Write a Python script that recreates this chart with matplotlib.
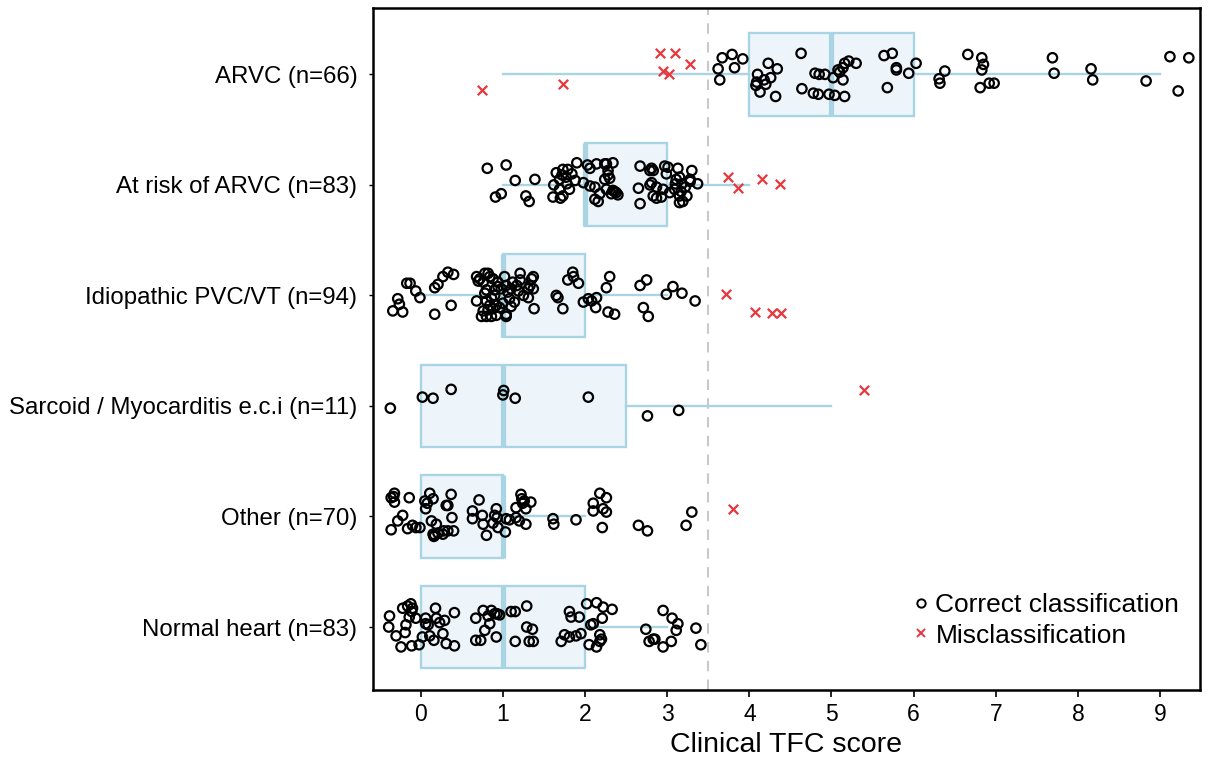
import numpy as np
import matplotlib
matplotlib.use('Agg')
import matplotlib.pyplot as plt
from matplotlib.lines import Line2D

plt.rcParams['font.family'] = ['Liberation Sans', 'DejaVu Sans']

groups = ['ARVC (n=66)', 'At risk of ARVC (n=83)', 'Idiopathic PVC/VT (n=94)',
          'Sarcoid / Myocarditis e.c.i (n=11)', 'Other (n=70)', 'Normal heart (n=83)']

# box statistics
q1 = [4, 2, 1, 0, 0, 0]
med = [5, 2, 1, 1, 1, 1]
q3 = [6, 3, 2, 2.5, 1, 2]
whislo = [1, 1, 0, 0, 0, 0]
whishi = [9, 4, 3, 5, 2, 3]

# jittered points: x = score (with jitter), dy = vertical offset from the row
arvc_ok_x = [3.67, 3.79, 3.92, 3.82, 3.62, 3.64, 4.23, 4.34, 4.10, 4.26, 4.09, 4.20, 4.08, 4.13, 4.32,
             4.63, 4.64, 4.80, 4.85, 4.92, 4.78, 4.84, 5.02, 5.08, 5.14, 5.16, 5.21, 5.30, 5.14, 5.16,
             5.64, 5.74, 5.79, 5.79, 5.94, 6.03, 5.68, 6.31, 6.32, 6.38, 6.66, 6.83, 6.85, 6.83,
             6.81, 6.92, 6.98, 7.69, 7.71, 8.16, 8.18, 8.83, 9.12, 9.35, 9.22, 4.97, 5.04, 4.18, 5.10]
arvc_ok_dy = [-0.15, -0.18, -0.14, -0.06, -0.05, 0.05, -0.10, -0.05, 0.00, 0.03, 0.07, 0.09, 0.10, 0.16, 0.20,
              -0.19, 0.13, -0.01, 0.00, 0.00, 0.17, 0.18, 0.03, -0.04, -0.06, -0.10, -0.12, -0.10, 0.05, 0.20,
              -0.17, -0.19, -0.06, -0.04, -0.01, -0.10, 0.12, 0.04, 0.08, -0.03, -0.18, -0.15, -0.09, -0.04,
              0.12, 0.08, 0.08, -0.15, -0.01, -0.05, 0.05, 0.06, -0.16, -0.15, 0.15, 0.18, 0.19, 0.05, -0.02]
arvc_mis_x = [0.74, 1.73, 2.91, 3.09, 2.95, 3.02, 3.28]
arvc_mis_dy = [0.14, 0.09, -0.19, -0.19, -0.03, 0.00, -0.09]

risk_ok_x = [0.81, 1.04, 1.15, 1.39, 0.98, 0.91, 1.28, 1.32, 1.61, 1.62, 1.65, 1.69, 1.73, 1.79, 1.77,
             1.81, 1.69, 1.70, 1.90, 1.88, 1.98, 2.03, 2.06, 2.14, 2.24, 2.34, 2.28, 2.24, 2.30, 2.26,
             2.12, 2.18, 2.16, 2.12, 2.34, 2.40, 2.32, 2.67, 2.81, 2.83, 2.97, 2.99, 2.65, 2.79, 2.81,
             2.87, 2.95, 3.01, 2.67, 2.83, 2.87, 2.93, 3.03, 3.09, 3.11, 3.13, 3.15, 3.18, 3.15, 3.19,
             3.15, 3.24, 3.22, 3.28, 3.30, 3.28, 3.37, 1.72, 1.78, 2.06, 2.28, 2.36, 2.79, 3.10, 3.17,
             1.73, 2.26, 2.38, 1.84]
risk_ok_dy = [-0.15, -0.18, -0.04, -0.05, 0.08, 0.11, 0.10, 0.15, 0.11, 0.00, -0.11, -0.05, -0.14, -0.14, -0.07,
              0.04, 0.04, 0.12, -0.20, -0.04, -0.02, -0.18, -0.15, -0.19, -0.19, -0.20, -0.13, -0.05, -0.06, 0.04,
              0.02, 0.08, 0.15, 0.13, 0.05, 0.09, 0.08, -0.17, -0.15, -0.13, -0.17, -0.10, 0.03, 0.00, -0.02,
              0.02, 0.04, -0.16, 0.17, 0.10, 0.12, 0.11, 0.07, 0.04, -0.05, -0.15, -0.07, -0.01, 0.10, 0.15,
              0.16, 0.10, 0.02, -0.03, -0.13, -0.05, -0.01, -0.09, -0.01, 0.01, -0.09, 0.06, -0.13, -0.01, 0.06,
              0.10, -0.19, 0.07, -0.10]
risk_mis_x = [3.74, 3.86, 4.15, 4.37]
risk_mis_dy = [-0.07, 0.03, -0.05, -0.01]

idio_ok_x = [-0.17, -0.13, -0.06, -0.01, -0.28, -0.26, -0.34, -0.22, 0.17, 0.21, 0.27, 0.33, 0.40, 0.17, 0.37,
             0.68, 0.72, 0.78, 0.82, 0.84, 0.76, 0.88, 0.94, 0.80, 0.90, 0.68, 0.80, 0.84, 0.92, 0.76,
             0.74, 0.80, 0.86, 0.92, 0.96, 0.90, 0.98, 1.02, 1.04, 1.06, 1.08, 1.04, 1.04, 1.14, 1.12,
             1.17, 1.21, 1.25, 1.31, 1.33, 1.35, 1.37, 1.37, 1.38, 1.31, 1.21, 1.10, 1.65, 1.67, 1.73,
             1.79, 1.85, 1.86, 1.92, 1.98, 2.04, 2.08, 2.14, 2.13, 2.28, 2.36, 2.26, 2.30, 2.67, 2.75,
             2.71, 2.77, 2.99, 3.07, 3.18, 3.34, 0.70, 0.78, 0.86, 0.88, 0.94, 1.00, 1.10, 0.82, 1.19]
idio_ok_dy = [-0.11, -0.11, -0.04, 0.02, 0.03, 0.08, 0.14, 0.15, -0.07, -0.10, -0.17, -0.21, -0.19, 0.17, 0.09,
              -0.17, -0.15, -0.20, -0.20, -0.17, -0.12, -0.15, -0.12, -0.05, -0.05, 0.05, 0.05, 0.09, 0.09, 0.14,
              0.19, 0.19, 0.19, 0.18, 0.11, 0.00, -0.06, -0.17, -0.09, -0.03, 0.03, 0.17, 0.19, 0.06, -0.12,
              -0.09, -0.20, 0.00, -0.06, -0.09, -0.15, -0.17, -0.06, 0.12, 0.02, -0.14, -0.06, 0.00, 0.02, 0.12,
              -0.14, -0.21, -0.17, -0.11, 0.06, 0.03, 0.05, 0.02, 0.11, 0.15, 0.17, -0.07, -0.17, -0.09, -0.14,
              0.11, 0.19, -0.01, -0.08, -0.02, 0.05, -0.13, -0.02, 0.02, 0.12, -0.08, 0.07, 0.10, 0.13, -0.04]
idio_mis_x = [3.72, 4.07, 4.27, 4.39]
idio_mis_dy = [-0.01, 0.15, 0.16, 0.16]

sarc_ok_x = [-0.37, 0.02, 0.15, 0.37, 1.01, 1.00, 1.15, 2.04, 2.76, 3.14]
sarc_ok_dy = [0.02, -0.08, -0.07, -0.15, -0.14, -0.10, -0.07, -0.08, 0.09, 0.04]
sarc_mis_x = [5.40]
sarc_mis_dy = [-0.14]

other_ok_x = [-0.36, -0.32, -0.32, -0.36, -0.28, -0.22, -0.14, -0.16, -0.10, -0.06, -0.01, 0.05, 0.06, 0.11, 0.15,
              0.13, 0.19, 0.15, 0.17, 0.21, 0.27, 0.28, 0.31, 0.33, 0.37, 0.38, 0.40, 0.33, 0.71, 0.63,
              0.63, 0.75, 0.76, 0.80, 0.88, 0.92, 0.93, 0.94, 1.03, 1.04, 1.08, 1.16, 1.16, 1.20, 1.22,
              1.23, 1.26, 1.34, 1.28, 1.28, 1.61, 1.62, 1.89, 2.10, 2.10, 2.18, 2.26, 2.22, 2.26, 2.21,
              2.65, 2.76, 3.23, 3.30, -0.33, 0.16, 0.08, 0.90, 1.24]
other_ok_dy = [-0.17, -0.21, -0.13, 0.12, 0.04, -0.01, -0.17, 0.11, 0.08, 0.10, 0.10, -0.14, -0.07, -0.21, -0.16,
               0.04, 0.07, 0.16, 0.17, 0.15, 0.16, 0.13, -0.10, -0.10, -0.20, 0.01, 0.13, 0.13, -0.15, -0.05,
               0.02, -0.01, 0.07, 0.17, 0.06, -0.07, 0.01, 0.10, 0.14, 0.02, 0.03, -0.08, 0.01, 0.04, -0.20,
               -0.16, -0.14, -0.13, -0.07, 0.07, 0.02, 0.07, 0.03, -0.12, -0.05, -0.21, -0.17, -0.07, -0.04, 0.10,
               0.08, 0.13, 0.08, -0.04, -0.18, 0.18, -0.12, -0.01, -0.12]
other_mis_x = [3.80]
other_mis_dy = [-0.07]

norm_ok_x = [-0.38, -0.39, -0.30, -0.24, -0.22, -0.16, -0.12, -0.11, -0.18, -0.19, -0.14, -0.06, -0.11, -0.02, 0.06,
             0.02, 0.09, 0.11, 0.16, 0.18, 0.19, 0.23, 0.27, 0.29, 0.31, 0.41, 0.41, 0.06, 0.67, 0.76,
             0.82, 0.86, 0.90, 0.96, 0.84, 0.78, 0.67, 0.73, 0.92, 1.10, 1.15, 1.15, 1.29, 1.29, 1.36,
             1.32, 1.37, 1.71, 1.75, 1.81, 1.83, 1.93, 1.81, 1.89, 1.95, 2.02, 2.07, 2.10, 2.14, 2.22,
             2.33, 2.21, 2.18, 2.20, 2.18, 2.05, 2.14, 2.74, 2.78, 2.85, 2.95, 2.95, 3.05, 3.06, 3.13,
             3.11, 3.35, 3.41, -0.10, 0.93, 2.83]
norm_ok_dy = [-0.10, 0.00, 0.08, 0.18, -0.17, -0.19, -0.21, -0.14, -0.02, 0.05, -0.09, -0.08, 0.17, 0.16, -0.08,
              0.09, -0.02, 0.08, 0.12, -0.17, -0.08, -0.04, 0.06, -0.06, 0.15, 0.17, -0.13, -0.03, -0.08, -0.15,
              -0.10, -0.15, -0.12, -0.11, -0.03, 0.03, 0.12, 0.12, 0.09, -0.14, -0.14, 0.13, -0.19, 0.00, 0.02,
              0.13, 0.13, 0.13, 0.07, -0.14, -0.09, -0.09, 0.09, 0.08, 0.06, -0.21, -0.02, -0.03, -0.22, -0.18,
              -0.16, -0.08, 0.07, 0.11, 0.13, 0.16, 0.18, 0.02, 0.13, 0.11, 0.18, -0.15, 0.13, -0.08, -0.03,
              0.03, 0.01, 0.16, -0.17, -0.12, 0.11]
norm_mis_x = []
norm_mis_dy = []

ok_x = [arvc_ok_x, risk_ok_x, idio_ok_x, sarc_ok_x, other_ok_x, norm_ok_x]
ok_dy = [arvc_ok_dy, risk_ok_dy, idio_ok_dy, sarc_ok_dy, other_ok_dy, norm_ok_dy]
mis_x = [arvc_mis_x, risk_mis_x, idio_mis_x, sarc_mis_x, other_mis_x, norm_mis_x]
mis_dy = [arvc_mis_dy, risk_mis_dy, idio_mis_dy, sarc_mis_dy, other_mis_dy, norm_mis_dy]

box_edge = '#a9d4e4'
box_fill = '#eef5fa'

fig = plt.figure(figsize=(12.1, 7.65), dpi=100)
ax = fig.add_axes([0.308, 0.098, 0.684, 0.8915])

stats = [dict(q1=q1[i], med=med[i], q3=q3[i], whislo=whislo[i], whishi=whishi[i], fliers=[])
         for i in range(len(groups))]
pos = np.arange(len(groups))
ax.bxp(stats, positions=pos, widths=0.75, orientation='horizontal', patch_artist=True,
       showfliers=False, showcaps=False,
       boxprops=dict(facecolor=box_fill, edgecolor=box_edge, linewidth=1.7),
       whiskerprops=dict(color=box_edge, linewidth=1.7),
       medianprops=dict(color=box_edge, linewidth=3.8), zorder=1)

ax.axvline(3.5, color='#c9c9c9', linestyle=(0, (5, 4)), linewidth=1.5, zorder=0.5)

for i in range(len(groups)):
    ax.scatter(ok_x[i], i + np.array(ok_dy[i]), s=46, facecolors='none', edgecolors='black',
               linewidths=1.6, zorder=3)
    if mis_x[i]:
        ax.scatter(mis_x[i], i + np.array(mis_dy[i]), s=46, marker='x', color='#e8383d',
                   linewidths=1.6, zorder=3)

ax.set_xlim(-0.585, 9.49)
ax.set_ylim(5.57, -0.6)
ax.set_yticks(pos)
ax.set_yticklabels(groups, fontsize=17.3)
ax.set_xticks(range(10))
ax.tick_params(axis='x', labelsize=16.5, length=5, width=1.2, direction='out', pad=4)
ax.tick_params(axis='y', length=3, width=1.0, direction='out', pad=8)
ax.set_xlabel('Clinical TFC score', fontsize=20.5, labelpad=5)
for s in ax.spines.values():
    s.set_linewidth(1.8)

handles = [Line2D([], [], marker='o', linestyle='none', markerfacecolor='none', markeredgecolor='black',
                  markersize=6, markeredgewidth=1.4),
           Line2D([], [], marker='x', linestyle='none', color='#e8383d', markersize=6, markeredgewidth=1.4)]
ax.legend(handles, ['Correct classification', 'Misclassification'], loc='lower right',
          bbox_to_anchor=(0.997, 0.035), frameon=False, fontsize=19, handletextpad=0.15,
          handlelength=0.8, labelspacing=0.25, borderpad=0.2)

fig.savefig('out.png', dpi=100)
